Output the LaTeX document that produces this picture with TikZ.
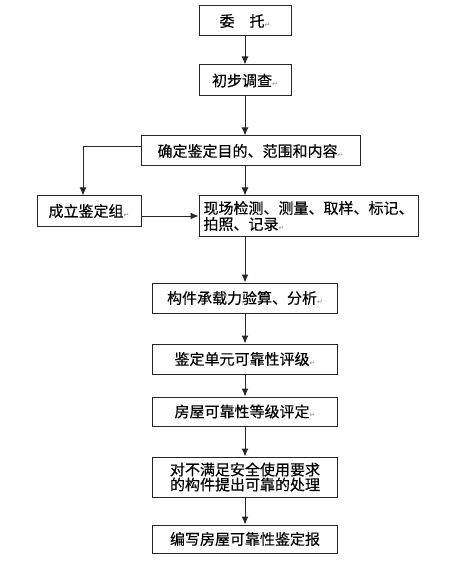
\documentclass[tikz,border=0pt]{standalone}
\usepackage{fontspec}
\newfontfamily\cjk[FakeBold=0.4]{Noto Sans CJK SC}
\newfontfamily\symb{DejaVu Sans}
\usetikzlibrary{arrows.meta}
\def\ret{{\symb\fontsize{7}{7}\selectfont\color{black!45}\raisebox{-0.5pt}{↵}}}

\begin{document}
\begin{tikzpicture}[x=1pt,y=-1pt,
		box/.style={draw=black!85, line width=1pt, inner sep=0pt, font=\cjk\fontsize{15}{16}\selectfont},
		arr/.style={line width=1pt, draw=black!85, -{Latex[length=8pt,width=7pt]}}]
			%%%%% START %%%%%
			
			\useasboundingbox (0, 0) rectangle (474, 561);
			
			\node[box, minimum width=92pt, minimum height=30pt] (wt) at (245, 21) {委　托\ret};
			\node[box, minimum width=92pt, minimum height=31pt] (dc) at (245, 80.5) {初步调查\ret};
			\node[box, minimum width=219pt, minimum height=30pt] (md) at (250.5, 151) {确定鉴定目的、范围和内容\ret};
			
			\node[box, minimum width=104pt, minimum height=30pt] (zu) at (89, 211) {成立鉴定组\ret};
			\node[box, minimum width=219pt, minimum height=40pt, align=left] (jc) at (308.5, 216) {现场检测、测量、取样、标记、\\拍照、记录\ret};
			
			\node[box, minimum width=185pt, minimum height=30pt] (ys) at (245, 298) {构件承载力验算、分析\ret};
			\node[box, minimum width=185pt, minimum height=30pt] (dy) at (245, 359) {鉴定单元可靠性评级\ret};
			\node[box, minimum width=185pt, minimum height=29pt] (dj) at (245, 411.5) {房屋可靠性等级评定\ret};
			\node[box, minimum width=185pt, minimum height=40pt, align=center, font=\cjk\fontsize{15}{15}\selectfont] (cl) at (245, 477) {对不满足安全使用要求\\的构件提出可靠的处理};
			\node[box, minimum width=185pt, minimum height=28pt] (bg) at (245, 539) {编写房屋可靠性鉴定报};
			
			\draw[arr] (wt) -- (dc);
			\draw[arr] (dc) -- (dc.south |- md.north);
			\draw[arr] ([yshift=4pt]md.west) -| ([xshift=-6pt]zu.north);
			\draw[arr] (dc.south |- md.south) -- (dc.south |- jc.north);
			\draw[arr] (zu.east |- jc.west) -- (jc.west);
			\draw[arr] (dc.south |- jc.south) -- (ys);
			\draw[arr] (ys) -- (dy);
			\draw[arr] (dy) -- (dj);
			\draw[arr] (dj) -- (cl);
			\draw[arr] (cl) -- (bg);
			
			%%%%% END %%%%%
		\end{tikzpicture}
\end{document}
